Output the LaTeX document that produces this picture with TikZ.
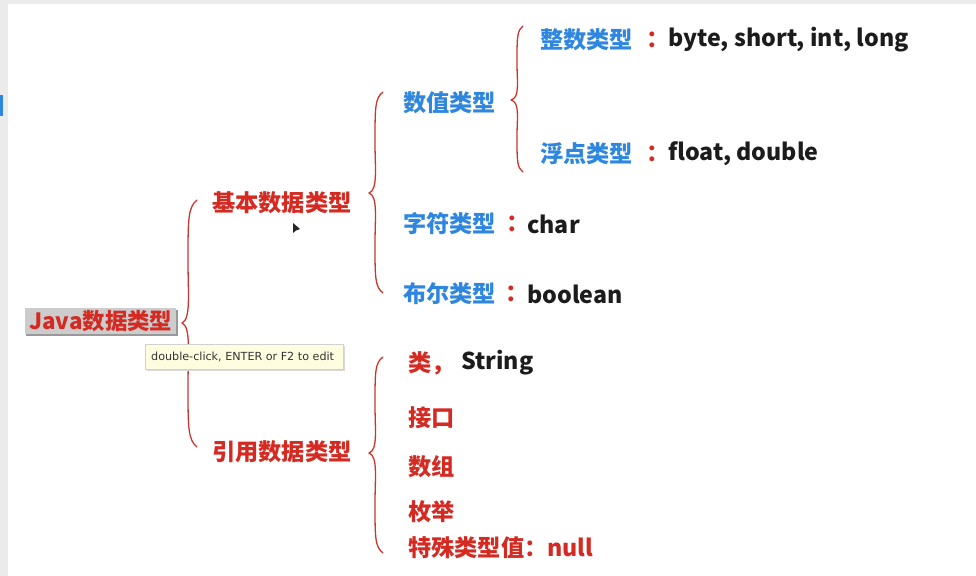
\documentclass[tikz,border=0pt]{standalone}
\usepackage{fontspec}
\setmainfont{Noto Sans CJK SC}
\newfontfamily\tipfont{DejaVu Sans}
\definecolor{tred}{HTML}{D42A22}
\definecolor{tblue}{HTML}{2F86DF}
\definecolor{tblack}{HTML}{1C1C1C}
\definecolor{bred}{HTML}{C8372D}
\tikzset{
  lbl/.style={anchor=west,inner sep=0pt,font=\fontsize{23.3}{25}\selectfont\bfseries},
  redlbl/.style={lbl,text=tred},
  bluelbl/.style={lbl,text=tblue},
  blacklbl/.style={lbl,text=tblack},
  colon/.style={anchor=center,inner sep=0pt,font=\fontsize{23.3}{25}\selectfont\bfseries,text=tred},
  bracestyle/.style={draw=bred,line width=1.3pt,line cap=round,line join=round},
}
\newcommand\curlyL[6]{%
  \pgfmathsetmacro\Lu{#5-#4}%
  \pgfmathsetmacro\Ll{#6-#5}%
  \draw[bracestyle] (#1,#4) .. controls ({#2},{#4+0.06*\Lu}) and ({#2},{#4+0.15*\Lu}) .. ({#2},{#4+0.5*\Lu})
    .. controls ({#2},{#5-0.25*\Lu}) and ({#2+3},{#5-0.03*\Lu}) .. (#3,#5)
    .. controls ({#2+3},{#5+0.03*\Ll}) and ({#2},{#5+0.25*\Ll}) .. ({#2},{#5+0.5*\Ll})
    .. controls ({#2},{#6-0.15*\Ll}) and ({#2},{#6-0.06*\Ll}) .. (#1,#6);}
\begin{document}
\begin{tikzpicture}[x=1bp,y=-1bp]
\useasboundingbox (0,0) rectangle (976,576);
\fill[white] (0,0) rectangle (976,576);
% window chrome
\fill[black!8] (0,0) rectangle (976,4);
\fill[black!8] (0,0) rectangle (8,576);
\fill[tblue] (0,95) rectangle (3,116);
% root
\fill[black!40] (26,310) rectangle (178,336);
\fill[black!20] (25,308) rectangle (176,334);
\node[redlbl,font=\fontsize{22.5}{24}\selectfont\bfseries] (root) at (29,321) {Java数据类型};
% braces
\curlyL{197}{188}{182}{200}{323}{447}
\curlyL{383}{375}{369}{92}{193}{293}
\curlyL{523}{517}{511}{26}{100}{172}
\curlyL{383}{375}{369}{357}{453}{553}
% level 1
\node[redlbl] (basic) at (212,203) {基本数据类型};
\node[redlbl] (ref) at (212,452) {引用数据类型};
% basic children
\node[bluelbl] (num) at (403,103) {数值类型};
\node[bluelbl] (int) at (540,40) {整数类型};
\node[colon] (c1) at (658,40) {：};
\node[blacklbl] (intv) at (668,40) {byte, short, int, long};
\node[bluelbl] (flt) at (540,154) {浮点类型};
\node[colon] (c2) at (658,154) {：};
\node[blacklbl] (fltv) at (668,154) {float, double};
\node[bluelbl] (chr) at (403,224) {字符类型};
\node[colon] (c3) at (518,224) {：};
\node[blacklbl] (chrv) at (527,224) {char};
\node[bluelbl] (bool) at (403,294) {布尔类型};
\node[colon] (c4) at (517,294) {：};
\node[blacklbl] (boolv) at (527,294) {boolean};
% reference children
\node[redlbl] (cls) at (408,363) {类，};
\node[blacklbl] (str) at (461,363) {String};
\node[redlbl] (itf) at (408,418) {接口};
\node[redlbl] (arr) at (408,467) {数组};
\node[redlbl] (enm) at (408,512) {枚举};
\node[redlbl] (nul) at (408,548) {特殊类型值：null};
% tooltip
\fill[black!15] (147,346) rectangle (345,371);
\draw[draw=black!18,fill=yellow!12] (145,344) rectangle (343,369);
\node[anchor=west,inner sep=0pt,text=black!80,font=\tipfont\fontsize{11.2}{13}\selectfont] (tip) at (151,356.5) {double-click, ENTER or F2 to edit};
% cursor
\fill[black!85] (293,223) -- (293,233) -- (296,230.5) -- (300,229) -- cycle;
\end{tikzpicture}
\end{document}
